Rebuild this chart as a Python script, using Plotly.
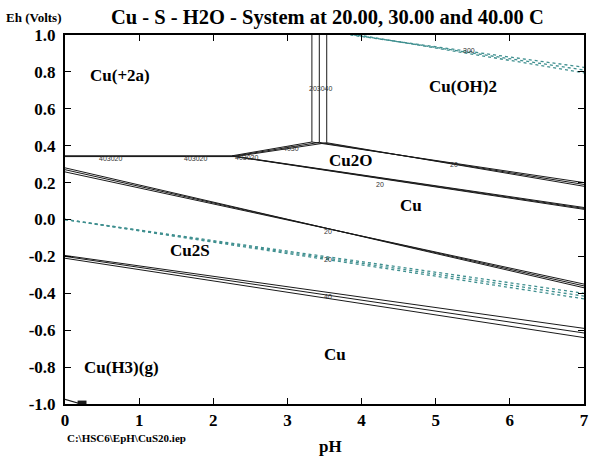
import plotly.graph_objects as go

# ---------------- data ----------------
temps = [20, 30, 40]
ph_min, ph_max = 0.0, 7.0

# Cu(+2a) / Cu horizontal boundary
eh_cu2_cu = [0.345, 0.343, 0.341]
ph_junction = [2.25, 2.27, 2.29]
# Cu(+2a) / Cu2O sloping boundary, ending at vertical Cu(+2a)/Cu(OH)2
ph_vertical = [3.33, 3.43, 3.53]
eh_vertical_bottom = [0.420, 0.418, 0.416]
eh_top = [1.0, 1.0, 1.0]
# Cu(OH)2 / Cu2O boundary at pH 7
eh_cuoh2_cu2o_ph7 = [0.200, 0.190, 0.180]
# Cu2O / Cu boundary at pH 7
eh_cu2o_cu_ph7 = [0.065, 0.060, 0.055]
# Cu / Cu2S (upper sulfide) boundary
eh_upper_ph0 = [0.280, 0.270, 0.258]
eh_upper_ph7 = [-0.370, -0.360, -0.350]
# Cu2S / Cu (lower sulfide) boundary
eh_lower_ph0 = [-0.195, -0.200, -0.210]
eh_lower_ph7 = [-0.590, -0.615, -0.640]
# water stability (dotted) lines
ph_water_hi_start = [3.85, 3.90, 3.95]
eh_water_hi_ph7 = [0.825, 0.810, 0.795]
eh_water_lo_ph0 = [0.0, 0.0, 0.0]
eh_water_lo_ph7 = [-0.400, -0.415, -0.430]
# Cu(H3)(g) small boundary near bottom-left
ph_cuh3 = [0.0, 0.22]
eh_cuh3 = [-0.975, -1.0]
ph_cuh3_blob = [0.17, 0.29]
eh_cuh3_blob = [-0.995, -0.995]

x_tickvals = [0, 1, 2, 3, 4, 5, 6, 7]
x_ticktext = ["0", "1", "2", "3", "4", "5", "6", "7"]
y_tickvals = [1.0, 0.8, 0.6, 0.4, 0.2, 0.0, -0.2, -0.4, -0.6, -0.8, -1.0]
y_ticktext = ["1.0", "0.8", "0.6", "0.4", "0.2", "0.0", "-0.2", "-0.4", "-0.6", "-0.8", "-1.0"]

region_labels = ["Cu(+2a)", "Cu(OH)2", "Cu2O", "Cu", "Cu2S", "Cu", "Cu(H3)(g)"]
region_ph = [0.74, 5.37, 3.85, 4.66, 1.69, 3.64, 0.76]
region_eh = [0.78, 0.72, 0.32, 0.076, -0.17, -0.73, -0.80]

temp_labels = ["403020", "403020", "403020", "4030", "203040", "300", "20", "20", "20", "20", "40"]
temp_ph = [0.62, 1.76, 2.45, 3.05, 3.45, 5.45, 5.25, 4.25, 3.55, 3.55, 3.55]
temp_eh = [0.333, 0.333, 0.336, 0.385, 0.71, 0.915, 0.30, 0.19, -0.065, -0.215, -0.42]

# ---------------- figure ----------------
fig = go.Figure()
line_col = "#1a1a1a"
dot_col = "#3f8f8f"

def seg(xs, ys, color=line_col, width=1.0, dash="solid"):
    fig.add_trace(go.Scatter(x=xs, y=ys, mode="lines", showlegend=False, hoverinfo="skip",
                             line=dict(color=color, width=width, dash=dash)))

for i in range(len(temps)):
    seg([ph_min, ph_junction[i]], [eh_cu2_cu[i], eh_cu2_cu[i]])
    seg([ph_junction[i], ph_vertical[i]], [eh_cu2_cu[i], eh_vertical_bottom[i]])
    seg([ph_vertical[i], ph_vertical[i]], [eh_vertical_bottom[i], eh_top[i]])
    seg([ph_vertical[i], ph_max], [eh_vertical_bottom[i], eh_cuoh2_cu2o_ph7[i]])
    seg([ph_junction[i], ph_max], [eh_cu2_cu[i], eh_cu2o_cu_ph7[i]])
    seg([ph_min, ph_max], [eh_upper_ph0[i], eh_upper_ph7[i]])
    seg([ph_min, ph_max], [eh_lower_ph0[i], eh_lower_ph7[i]])
    seg([ph_water_hi_start[i], ph_max], [eh_top[i], eh_water_hi_ph7[i]], color=dot_col, width=1.3, dash="dot")
    seg([ph_min, ph_max], [eh_water_lo_ph0[i], eh_water_lo_ph7[i]], color=dot_col, width=1.3, dash="dot")

seg(ph_cuh3, eh_cuh3, width=1.2)
seg(ph_cuh3_blob, eh_cuh3_blob, width=5)

serif = "Liberation Serif"
for t, x, y in zip(region_labels, region_ph, region_eh):
    fig.add_annotation(x=x, y=y, text=t, showarrow=False,
                       font=dict(family=serif, size=17, color="black", weight="bold"))
for t, x, y in zip(temp_labels, temp_ph, temp_eh):
    fig.add_annotation(x=x, y=y, text=t, showarrow=False,
                       font=dict(family="Liberation Sans", size=7, color="#333333"))

fig.add_annotation(xref="paper", yref="paper", x=0.506, y=1.0, yanchor="bottom", yshift=4,
                   text="Cu - S - H2O - System at 20.00, 30.00 and 40.00 C",
                   showarrow=False, font=dict(family=serif, size=20.5, color="black", weight="bold"))
fig.add_annotation(xref="paper", yref="paper", x=-0.117, y=1.0, yanchor="bottom", yshift=8, xanchor="left",
                   text="Eh (Volts)", showarrow=False, font=dict(family=serif, size=13, color="black", weight="bold"))
fig.add_annotation(xref="paper", yref="paper", x=0.512, y=0, yanchor="top", yshift=-31, text="pH",
                   showarrow=False, font=dict(family=serif, size=17, color="black", weight="bold"))
fig.add_annotation(xref="paper", yref="paper", x=0.0, y=0, yanchor="top", yshift=-26, xanchor="left",
                   text="C:\\HSC6\\EpH\\CuS20.iep", showarrow=False,
                   font=dict(family=serif, size=11, color="black", weight="bold"))

axis_common = dict(showgrid=False, zeroline=False, showline=True, linecolor="black", linewidth=2,
                   mirror="ticks", ticks="inside", ticklen=6, tickcolor="black", tickwidth=1,
                   automargin=False, ticklabeloverflow="allow",
                   tickfont=dict(family=serif, size=17, color="black", weight="bold"))
fig.update_xaxes(range=[ph_min, ph_max], tickvals=x_tickvals, ticktext=x_ticktext, **axis_common)
fig.update_yaxes(range=[-1.0, 1.0], tickvals=y_tickvals, ticktext=y_ticktext, ticklabelstandoff=4, **axis_common)

fig.update_layout(width=590, height=457, margin=dict(l=65, r=6, t=35, b=53, autoexpand=False),
                  plot_bgcolor="white", paper_bgcolor="white", showlegend=False)
# remove the browser's default body margin so the figure fills the 590x457 window exactly
fig.write_html("out.html", config={"displayModeBar": False},
               post_script="document.body.style.margin='0';document.body.style.overflow='hidden';")
